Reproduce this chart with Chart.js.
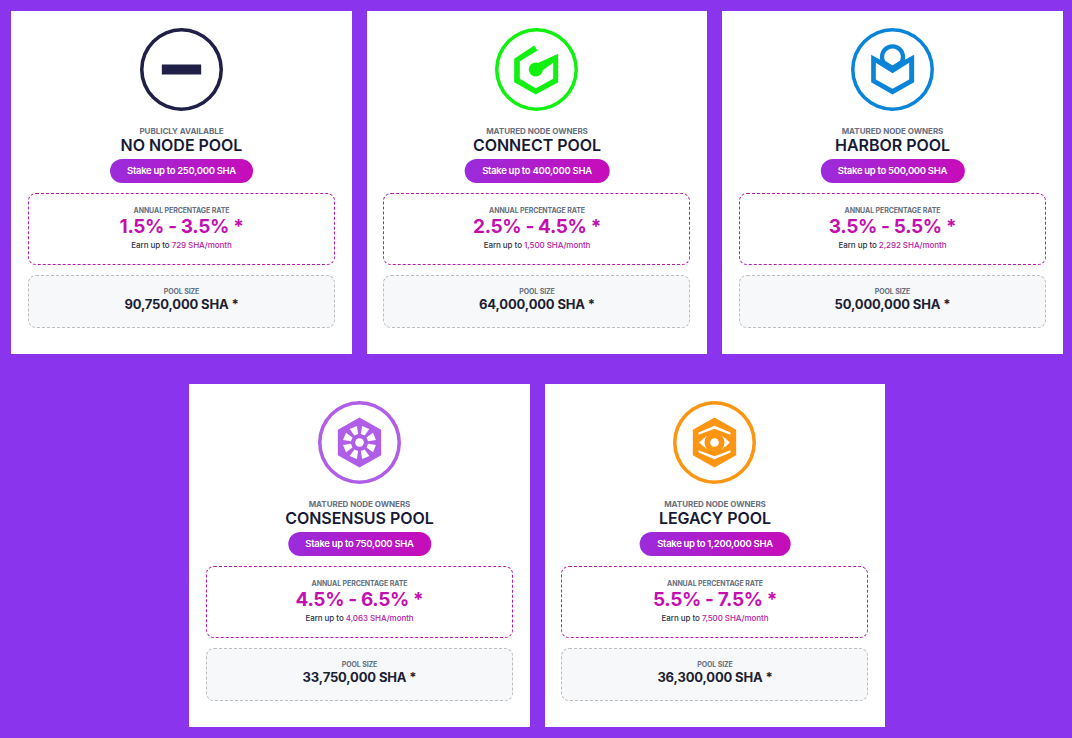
<!DOCTYPE html>
<html lang="en">
<head>
<meta charset="utf-8">
<title>Staking pools</title>
<script src="https://cdn.jsdelivr.net/npm/chart.js@4"></script>
<style>
  html, body { margin: 0; padding: 0; }
  body { width: 1072px; height: 738px; background: #8a34ee; font-family: Inter, "Noto Sans", sans-serif; overflow: hidden; position: relative; }
  .card { position: absolute; height: 343px; background: #fff; text-align: center; }
  .card canvas { position: absolute; left: 129px; top: 17px; width: 83px; height: 83px; }
  .angosta canvas { left: 128px; }
  .line { position: absolute; left: 0; right: 0; white-space: nowrap; transform: translateY(-50%); }
  .acceso { top: 120px; font-size: 8px; font-weight: 700; letter-spacing: -0.03px; color: #667080; }
  .titulo { top: 134px; font-size: 16px; font-weight: 600; letter-spacing: -0.03px; color: #171a36; }
  .pill { position: absolute; top: 148px; left: 50%; transform: translateX(-50%); height: 24px; line-height: 24px; padding: 0 17.5px; border-radius: 12px; white-space: nowrap;
          font-size: 9.5px; font-weight: 600; letter-spacing: -0.3px; color: #fff; background: linear-gradient(100deg, #9a2cdc, #c80bb8); }
  .caja { position: absolute; left: 17px; width: 307px; box-sizing: border-box; border-radius: 8px; }
  .angosta .caja { left: 16px; }
  .caja-apr { top: 182px; height: 72px; border: 1px dashed #b31ea8; }
  .caja-pool { top: 264px; height: 53px; border: 1px dashed #bdbdbd; background: #f7f8fa; }
  .etq { font-size: 7px; font-weight: 700; letter-spacing: -0.1px; color: #667080; }
  .apr { top: 215px; font-size: 19px; font-weight: 700; letter-spacing: -0.35px; color: #c40fb0; }
  .gana { top: 234px; font-size: 8px; font-weight: 500; letter-spacing: -0.06px; color: #2c2f45; }
  .gana span { color: #b51ba5; }
  .tam { top: 293px; font-size: 13px; font-weight: 700; letter-spacing: -0.15px; color: #1c1f33; }
</style>
</head>
<body>
<script>
// ==================== DATOS ====================
const nombres   = ['NO NODE POOL', 'CONNECT POOL', 'HARBOR POOL', 'CONSENSUS POOL', 'LEGACY POOL'];
const accesos   = ['PUBLICLY AVAILABLE', 'MATURED NODE OWNERS', 'MATURED NODE OWNERS', 'MATURED NODE OWNERS', 'MATURED NODE OWNERS'];
const stakes    = ['250,000', '400,000', '500,000', '750,000', '1,200,000'];
const aprMin    = [1.5, 2.5, 3.5, 4.5, 5.5];
const aprMax    = [3.5, 4.5, 5.5, 6.5, 7.5];
const ganancias = ['729', '1,500', '2,292', '4,063', '7,500'];
const tamanos   = ['90,750,000', '64,000,000', '50,000,000', '33,750,000', '36,300,000'];
const anillos   = [100, 100, 100, 100, 100];

const colores = ['#1f1f47', '#12f012', '#0a84d9', '#b05ee8', '#fb9512'];
const cardPos = [[11, 11, 341], [367, 11, 340], [722, 11, 341], [189, 384, 341], [545, 384, 340]];

// ==================== ICONOS (coordenadas 3x, centradas en el anillo) ====================
const HEX = 'M0,-75 L65,-38 L65,38 L0,75 L-65,38 L-65,-38 Z';

function dibujarIcono(ctx, i, color) {
    ctx.fillStyle = color;
    if (i === 0) {
        ctx.fillRect(-59, -15, 118, 30);
    } else if (i === 1) {
        ctx.fill(new Path2D('M-7,-72 L3,-57 L-50,-25 L-50,28 L-2,56 L50,28 L50,-20 L18,3 L3,-19 L65,-47 L65,38 L-2,75 L-67,38 L-67,-32 Z'));
        ctx.beginPath(); ctx.arc(-2, 0, 21, 0, Math.PI * 2); ctx.fill();
    } else if (i === 2) {
        ctx.fill(new Path2D('M-64,-44 L-37,-29 A38,38 0 1 1 37,-29 L65,-44 L65,38 L0,75 L-64,38 Z ' +
                            'M-50,-20 L0,11 L50,-20 L50,30 L0,58 L-50,30 Z ' +
                            'M-22,-26 A25,25 0 1 1 22,-26 L0,-12 Z'), 'evenodd');
    } else if (i === 3) {
        ctx.fill(new Path2D(HEX));
        ctx.fillStyle = '#fff';
        ctx.beginPath(); ctx.arc(0, 0, 13, 0, Math.PI * 2); ctx.fill();
        for (let k = 0; k < 8; k++) {
            const a1 = (45 * k + 9) * Math.PI / 180, a2 = (45 * k + 36) * Math.PI / 180;
            ctx.beginPath();
            ctx.moveTo(26 * Math.cos(a1), 26 * Math.sin(a1));
            ctx.lineTo(50 * Math.cos(a1), 50 * Math.sin(a1));
            ctx.lineTo(50 * Math.cos(a2), 50 * Math.sin(a2));
            ctx.lineTo(26 * Math.cos(a2), 26 * Math.sin(a2));
            ctx.closePath();
            ctx.fill();
        }
    } else {
        ctx.fill(new Path2D(HEX));
        ctx.fillStyle = '#fff';
        ctx.fill(new Path2D('M-48,-30 L0,-50 L48,-30 L48,-23 L0,-41 L-48,-23 Z M-48,30 L0,50 L48,30 L48,23 L0,41 L-48,23 Z'));
        ctx.fill(new Path2D('M-46,0 Q0,-50 46,0 Q0,50 -46,0 Z'));
        ctx.fillStyle = color;
        ctx.beginPath(); ctx.arc(0, 0, 30, 0, Math.PI * 2); ctx.fill();
        ctx.fillStyle = '#fff';
        ctx.beginPath(); ctx.arc(0, 0, 13, 0, Math.PI * 2); ctx.fill();
    }
}

const iconoPlugin = {
    id: 'icono',
    afterDraw(chart, args, opts) {
        const { ctx, width, height } = chart;
        ctx.save();
        ctx.translate(width / 2, height / 2);
        ctx.scale(1 / 3, 1 / 3);
        dibujarIcono(ctx, opts.indice, opts.color);
        ctx.restore();
    }
};

// ==================== TARJETAS ====================
nombres.forEach((nombre, i) => {
    const card = document.createElement('div');
    card.className = cardPos[i][2] === 340 ? 'card angosta' : 'card';
    card.style.left = cardPos[i][0] + 'px';
    card.style.top = cardPos[i][1] + 'px';
    card.style.width = cardPos[i][2] + 'px';
    card.innerHTML = `
        <canvas width="83" height="83"></canvas>
        <div class="line acceso">${accesos[i]}</div>
        <div class="line titulo">${nombre}</div>
        <div class="pill">Stake up to ${stakes[i]} SHA</div>
        <div class="caja caja-apr"></div>
        <div class="line etq" style="top:199px">ANNUAL PERCENTAGE RATE</div>
        <div class="line apr">${aprMin[i]}% - ${aprMax[i]}% *</div>
        <div class="line gana">Earn up to <span>${ganancias[i]} SHA/month</span></div>
        <div class="caja caja-pool"></div>
        <div class="line etq" style="top:280px">POOL SIZE</div>
        <div class="line tam">${tamanos[i]} SHA *</div>`;
    document.body.appendChild(card);

    new Chart(card.querySelector('canvas').getContext('2d'), {
        type: 'doughnut',
        data: { labels: [nombre], datasets: [{ data: [anillos[i]], backgroundColor: colores[i], borderWidth: 0 }] },
        options: {
            responsive: false,
            animation: false,
            cutout: '91.5%',
            plugins: {
                legend: { display: false },
                tooltip: { enabled: false },
                icono: { indice: i, color: colores[i] }
            }
        },
        plugins: [iconoPlugin]
    });
});
</script>
</body>
</html>
